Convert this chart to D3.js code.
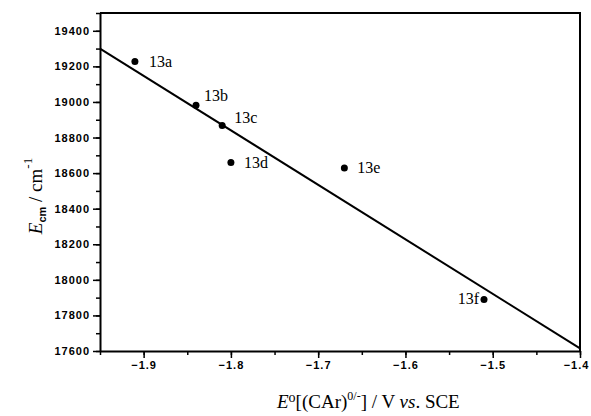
<!DOCTYPE html>
<html>
<head>
<meta charset="utf-8">
<script src="https://cdn.jsdelivr.net/npm/d3@7"></script>
<style>
  body { margin: 0; background: #fff; }
  .tick text { font-family: Arial, "Liberation Sans", sans-serif; font-weight: bold; font-size: 11px; letter-spacing: 1px; }
  .ptlabel { font-family: "Times New Roman", "Liberation Serif", serif; font-size: 16px; }
  .title { font-family: "Times New Roman", "Liberation Serif", serif; font-size: 19px; }
</style>
</head>
<body>
<div id="chart"></div>
<script>
const names = ["13a", "13b", "13c", "13d", "13e", "13f"];
const potentials = [-1.91, -1.84, -1.81, -1.80, -1.67, -1.51];
const energies = [19228, 18981, 18868, 18659, 18628, 17890];
const labelDx = [14, 8, 12, 13, 13, -5];
const labelDy = [6, -4, -2, 5, 5, 5];
const fitX = [-1.95, -1.4];
const fitY = [19300, 17615];
const xTicks = [-1.9, -1.8, -1.7, -1.6, -1.5, -1.4];
const yTicks = [17600, 17800, 18000, 18200, 18400, 18600, 18800, 19000, 19200, 19400];

const width = 591, height = 416;
const margin = { top: 13, right: 11, bottom: 65, left: 100 };

const svg = d3.select("#chart").append("svg")
  .attr("width", width)
  .attr("height", height);

const xScale = d3.scaleLinear()
  .domain([-1.95, -1.4])
  .range([margin.left, width - margin.right]);

const yScale = d3.scaleLinear()
  .domain([17600, 19500])
  .range([height - margin.bottom, margin.top]);

// minor ticks
const xMinor = d3.axisBottom(xScale).tickValues(d3.range(-1.95, -1.39, 0.05)).tickSize(4).tickFormat("");
const yMinor = d3.axisLeft(yScale).tickValues(d3.range(17600, 19501, 100)).tickSize(4).tickFormat("");

svg.append("g")
  .attr("transform", `translate(0,${height - margin.bottom})`)
  .call(xMinor)
  .call(g => g.selectAll("line").attr("stroke-width", 1.5))
  .call(g => g.select(".domain").remove());

svg.append("g")
  .attr("transform", `translate(${margin.left},0)`)
  .call(yMinor)
  .call(g => g.selectAll("line").attr("stroke-width", 1.5))
  .call(g => g.select(".domain").remove());

const xAxis = d3.axisBottom(xScale).tickValues(xTicks).tickSize(7).tickPadding(3).tickSizeOuter(0)
  .tickFormat(d3.format(".1f"));
const yAxis = d3.axisLeft(yScale).tickValues(yTicks).tickSize(7).tickPadding(3).tickSizeOuter(0)
  .tickFormat(d3.format("d"));

svg.append("g")
  .attr("class", "axis x-axis")
  .attr("transform", `translate(0,${height - margin.bottom})`)
  .call(xAxis)
  .call(g => g.selectAll("line").attr("stroke-width", 1.5))
  .call(g => g.select(".domain").attr("stroke-width", 2))
  .call(g => g.selectAll(".tick text").filter(d => d === -1.4).attr("dx", -4));

svg.append("g")
  .attr("class", "axis y-axis")
  .attr("transform", `translate(${margin.left},0)`)
  .call(yAxis)
  .call(g => g.selectAll("line").attr("stroke-width", 1.5))
  .call(g => g.select(".domain").attr("stroke-width", 2));

// frame top and right
svg.append("path")
  .attr("d", `M${margin.left},${margin.top}H${width - margin.right}V${height - margin.bottom}`)
  .attr("fill", "none")
  .attr("stroke", "#000")
  .attr("stroke-width", 2);

// fit line
const line = d3.line().x(d => xScale(d[0])).y(d => yScale(d[1]));
svg.append("path")
  .datum(d3.zip(fitX, fitY))
  .attr("d", line)
  .attr("fill", "none")
  .attr("stroke", "#000")
  .attr("stroke-width", 2);

const pts = names.map((n, i) => ({ name: n, x: potentials[i], y: energies[i], dx: labelDx[i], dy: labelDy[i] }));

svg.selectAll(".pt")
  .data(pts)
  .join("circle")
  .attr("class", "pt")
  .attr("cx", d => xScale(d.x))
  .attr("cy", d => yScale(d.y))
  .attr("r", 3.5)
  .attr("fill", "#000");

svg.selectAll(".ptlabel")
  .data(pts)
  .join("text")
  .attr("class", "ptlabel")
  .attr("x", d => xScale(d.x) + d.dx)
  .attr("y", d => yScale(d.y) + d.dy)
  .attr("text-anchor", d => d.dx < 0 ? "end" : "start")
  .text(d => d.name);

// x title
const xt = svg.append("text")
  .attr("class", "title")
  .attr("x", 277)
  .attr("y", 408);
xt.append("tspan").attr("font-style", "italic").text("E");
xt.append("tspan").attr("font-size", 14).attr("dy", -6).text("o");
xt.append("tspan").attr("dy", 6).text("[(CAr)");
xt.append("tspan").attr("font-size", 12).attr("dy", -8).text("0/-");
xt.append("tspan").attr("dy", 8).text("] / V ");
xt.append("tspan").attr("font-style", "italic").text("vs");
xt.append("tspan").text(". SCE");

// y title
const yt = svg.append("text")
  .attr("class", "title")
  .attr("transform", `translate(42,${(margin.top + height - margin.bottom) / 2 + 14}) rotate(-90)`)
  .attr("text-anchor", "middle")
  .attr("font-size", 22);
yt.append("tspan").attr("font-style", "italic").text("E");
yt.append("tspan").attr("font-family", "Arial, sans-serif").attr("font-weight", "bold").attr("font-size", 11).attr("dy", 4).text("cm");
yt.append("tspan").attr("dy", -4).text(" / cm");
yt.append("tspan").attr("font-size", 13).attr("dy", -10).text("-1");
</script>
</body>
</html>
